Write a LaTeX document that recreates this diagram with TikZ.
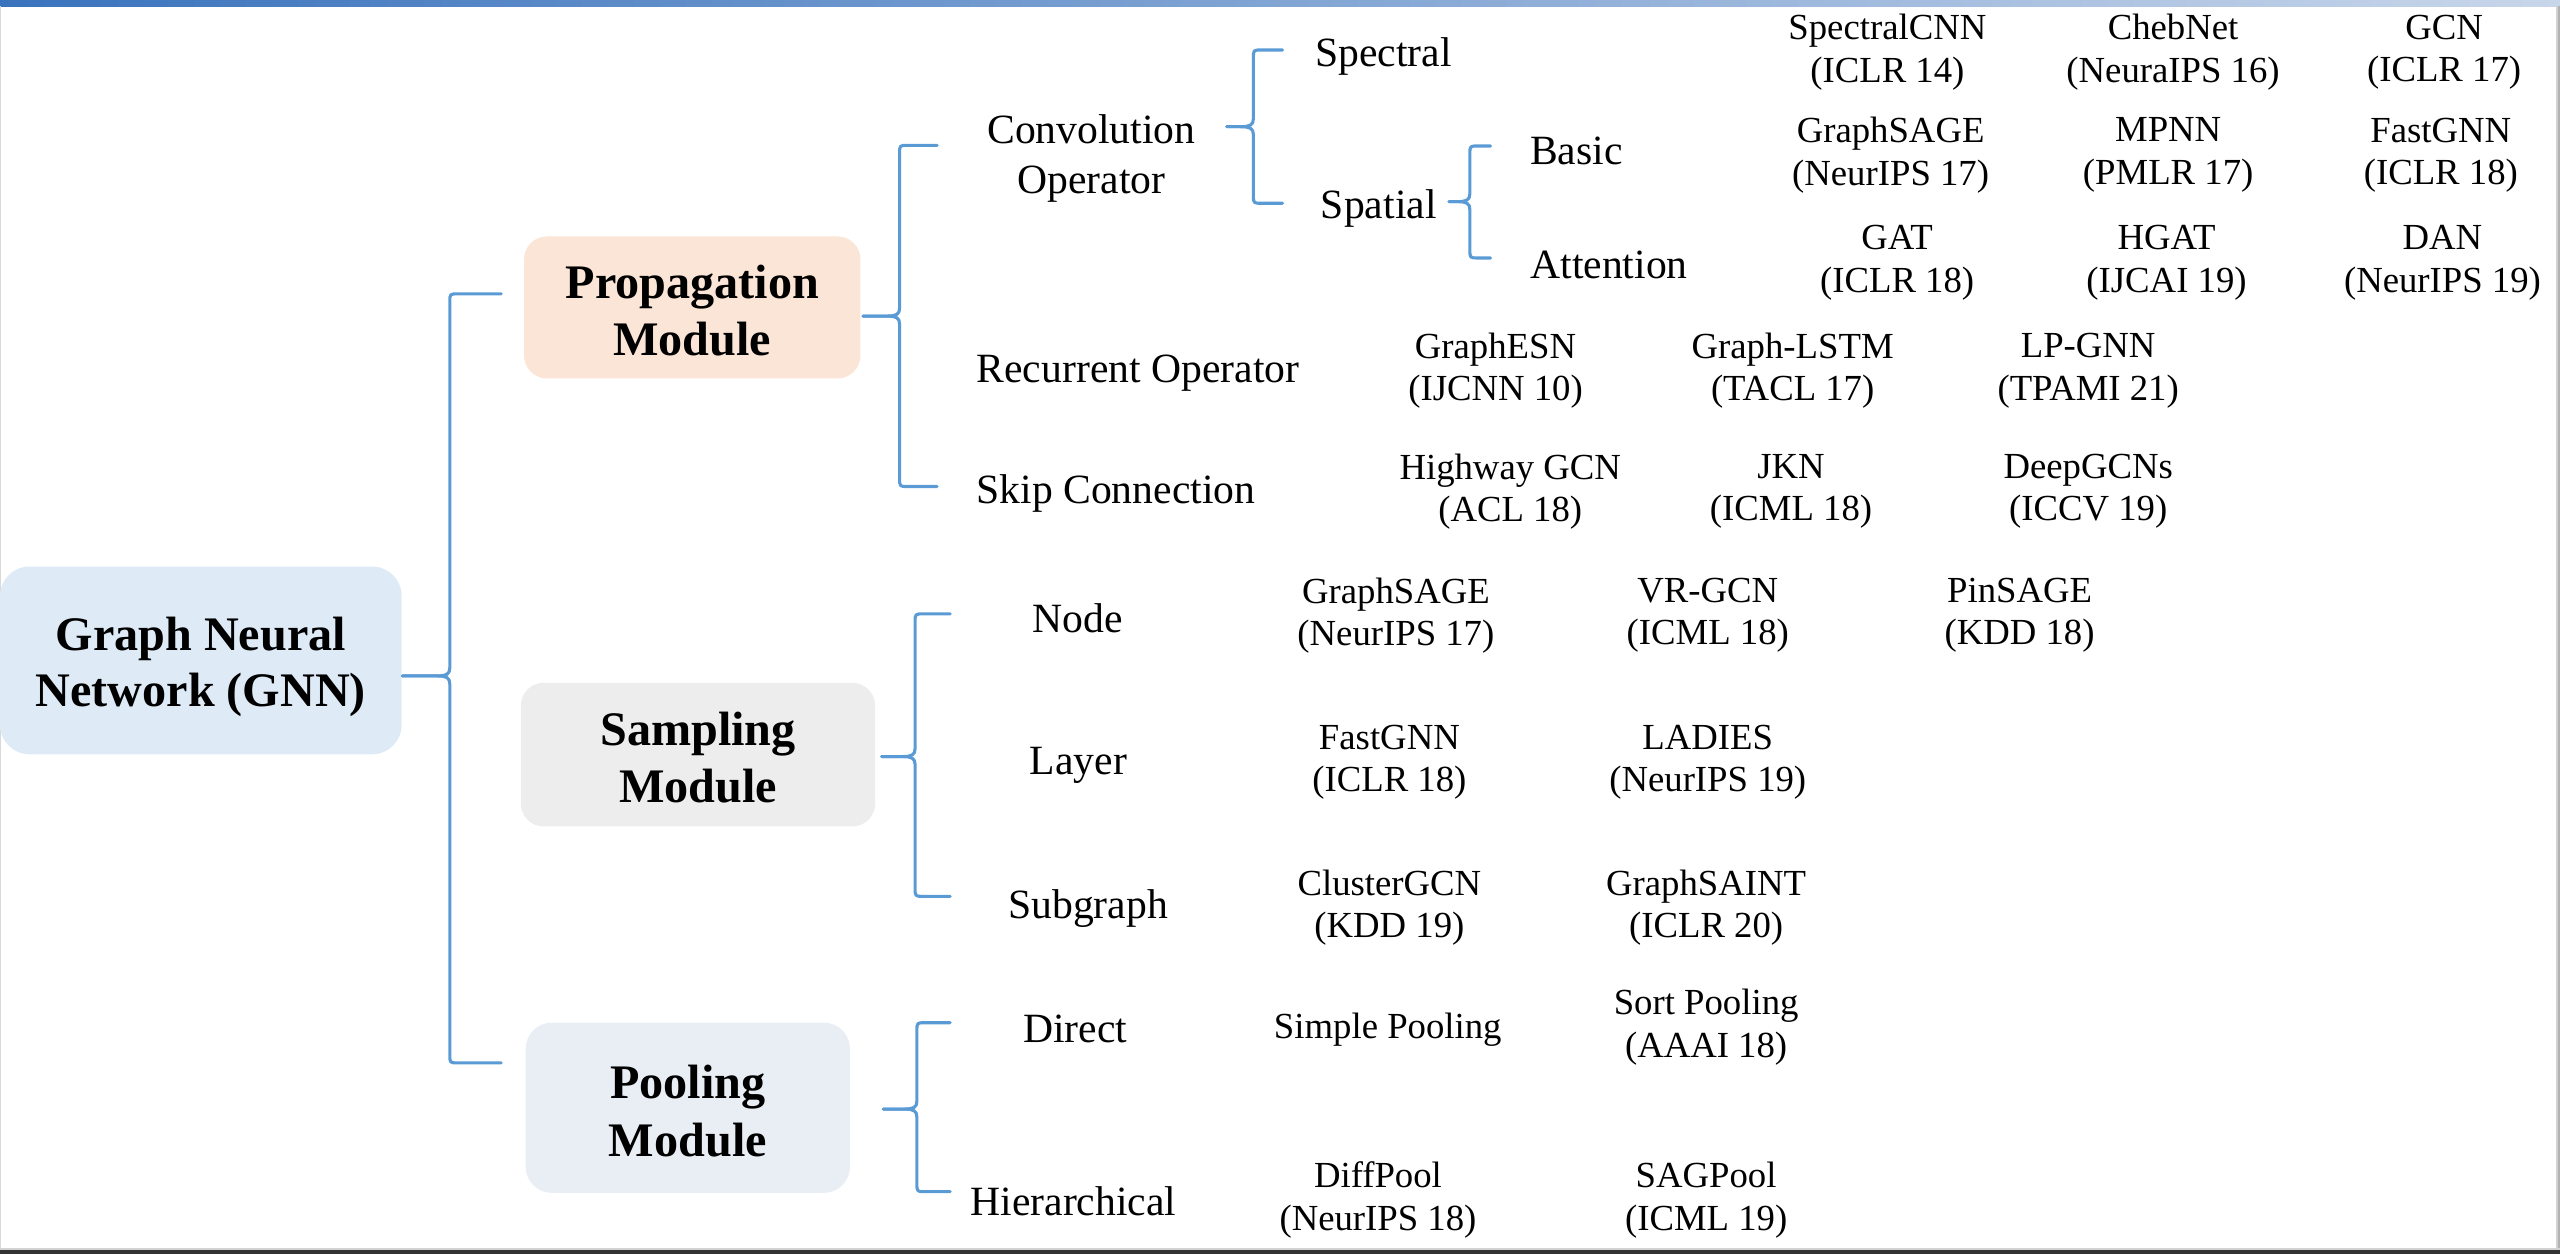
\documentclass[tikz,border=0pt]{standalone}
\usepackage{fontspec}
\setmainfont{Liberation Serif}
\definecolor{braceblue}{HTML}{5B9BD5}
\definecolor{gnnfill}{HTML}{DEEBF7}
\definecolor{propfill}{HTML}{FBE5D6}
\definecolor{sampfill}{HTML}{EDEDED}
\definecolor{poolfill}{HTML}{E9EDF4}
\definecolor{barleft}{HTML}{3A73BD}
\definecolor{barright}{HTML}{C8D6EA}
% curly brace: #1 tip coordinate, #2 spine x, #3 end x, #4 top y, #5 middle y, #6 bottom y
\newcommand\drawbrace[6]{%
  \draw[brace] (#3,#4) -- (#2+5,#4) .. controls (#2,#4) .. (#2,#4+5)
     -- (#2,#5-5) .. controls (#2,#5-1) and (#2-2,#5) .. (#2-8,#5) -- (#1);
  \draw[brace] (#1) -- (#2-8,#5) .. controls (#2-2,#5) and (#2,#5+1) .. (#2,#5+5)
     -- (#2,#6-5) .. controls (#2,#6) .. (#2+5,#6) -- (#3,#6);}
\begin{document}
\begin{tikzpicture}[x=1pt,y=-1pt,
  brace/.style={draw=braceblue, line width=1.9pt, line join=round, line cap=round},
  modbox/.style={rounded corners=14pt, inner sep=0pt, align=center,
    font=\fontsize{29.5}{35}\selectfont\bfseries},
  cat/.style={inner sep=0pt, align=center, yshift=-2.5pt, font=\fontsize{25.5}{31}\selectfont},
  paper/.style={inner sep=0pt, align=center, yshift=-2pt, font=\fontsize{22.5}{26}\selectfont}]
\useasboundingbox (0,0) rectangle (1568,768);
% frame: gradient bar on top, grey edges
\shade[left color=barleft, right color=barright] (0,0) rectangle (1568,3.8);
\draw[gray!30, line width=0.8pt] (0.4,3.8) -- (0.4,765);
\fill[gray!35] (1565.4,3.8) rectangle (1566.6,765.5);
\fill[gray!60] (1566.6,3.8) rectangle (1568,765.5);
\fill[gray!35] (0,764.4) rectangle (1568,765.5);
\fill[black!80] (0,765.5) rectangle (1568,768);

% root and modules
\node[modbox, fill=gnnfill, rounded corners=18pt, minimum width=246pt, minimum height=115pt]
  (gnn) at (123,404.5) {};
\node[modbox, font=\fontsize{29.5}{34}\selectfont\bfseries] (gnntext) at (123,408.5) {Graph Neural\\Network (GNN)};
\node[modbox, fill=propfill, minimum width=206pt, minimum height=87pt]
  (prop) at (424,188.3) {};
\node[modbox] (proptext) at (424,190) {Propagation\\Module};
\node[modbox, fill=sampfill, minimum width=217pt, minimum height=88pt]
  (samp) at (427.5,462.2) {};
\node[modbox] (samptext) at (427.5,464.2) {Sampling\\Module};
\node[modbox, fill=poolfill, rounded corners=16pt, minimum width=198.6pt, minimum height=104.3pt]
  (pool) at (421.3,678.5) {};
\node[modbox] (pooltext) at (421.3,680.5) {Pooling\\Module};

% operator categories
\node[cat] (conv) at (668.5,94.5) {Convolution\\Operator};
\node[cat] (spectral) at (847.5,32) {Spectral};
\node[cat] (spatial) at (844.5,125) {Spatial};
\node[cat] (basic) at (965.5,90) {Basic};
\node[cat] (attn) at (985.5,160) {Attention};
\node[cat] (recur) at (697,226) {Recurrent Operator};
\node[cat] (skip) at (683.5,300) {Skip Connection};
\node[cat] (node) at (660,376) {Node};
\node[cat] (layer) at (660.5,466) {Layer};
\node[cat] (subg) at (666.5,554) {Subgraph};
\node[cat] (direct) at (658.5,628) {Direct};
\node[cat] (hier) at (657.5,733) {Hierarchical};

% methods
\node[paper] (p1) at (1156,30) {SpectralCNN\\(ICLR 14)};
\node[paper] (p2) at (1331,30) {ChebNet\\(NeuraIPS 16)};
\node[paper] (p3) at (1497,30) {GCN\\(ICLR 17)};
\node[paper] (p4) at (1158,93) {GraphSAGE\\(NeurIPS 17)};
\node[paper] (p5) at (1328,93) {MPNN\\(PMLR 17)};
\node[paper] (p6) at (1495,93) {FastGNN\\(ICLR 18)};
\node[paper] (p7) at (1162,159) {GAT\\(ICLR 18)};
\node[paper] (p8) at (1327,159) {HGAT\\(IJCAI 19)};
\node[paper] (p9) at (1496,159) {DAN\\(NeurIPS 19)};
\node[paper] (p10) at (916,225) {GraphESN\\(IJCNN 10)};
\node[paper] (p11) at (1098,225) {Graph-LSTM\\(TACL 17)};
\node[paper] (p12) at (1279,225) {LP-GNN\\(TPAMI 21)};
\node[paper] (p13) at (925,299) {Highway GCN\\(ACL 18)};
\node[paper] (p14) at (1097,299) {JKN\\(ICML 18)};
\node[paper] (p15) at (1279,299) {DeepGCNs\\(ICCV 19)};
\node[paper] (p16) at (855,375) {GraphSAGE\\(NeurIPS 17)};
\node[paper] (p17) at (1046,375) {VR-GCN\\(ICML 18)};
\node[paper] (p18) at (1237,375) {PinSAGE\\(KDD 18)};
\node[paper] (p19) at (851,465) {FastGNN\\(ICLR 18)};
\node[paper] (p20) at (1046,465) {LADIES\\(NeurIPS 19)};
\node[paper] (p21) at (851,554) {ClusterGCN\\(KDD 19)};
\node[paper] (p22) at (1045,554) {GraphSAINT\\(ICLR 20)};
\node[paper] (p23) at (850,629) {Simple Pooling};
\node[paper] (p24) at (1045,627) {Sort Pooling\\(AAAI 18)};
\node[paper] (p25) at (844,733) {DiffPool\\(NeurIPS 18)};
\node[paper] (p26) at (1045,733) {SAGPool\\(ICML 19)};

% brace tips
\coordinate (gnntip) at (246.5,414);
\coordinate (proptip) at (528.6,193.6);
\coordinate (samptip) at (540,463.4);
\coordinate (pooltip) at (541,679.3);
\coordinate (convtip) at (751.4,77.6);
\coordinate (spattip) at (887.5,123.5);

% braces
\drawbrace{gnntip}{275.5}{307}{180}{414}{651}
\drawbrace{proptip}{551}{574}{89}{193.6}{298}
\drawbrace{samptip}{560.5}{582}{376}{463.4}{549}
\drawbrace{pooltip}{561.6}{582}{626.4}{679.3}{729.9}
\drawbrace{convtip}{767.7}{785.6}{30.6}{77.6}{124.5}
\drawbrace{spattip}{900.3}{913}{89.4}{123.5}{158}
\end{tikzpicture}
\end{document}
